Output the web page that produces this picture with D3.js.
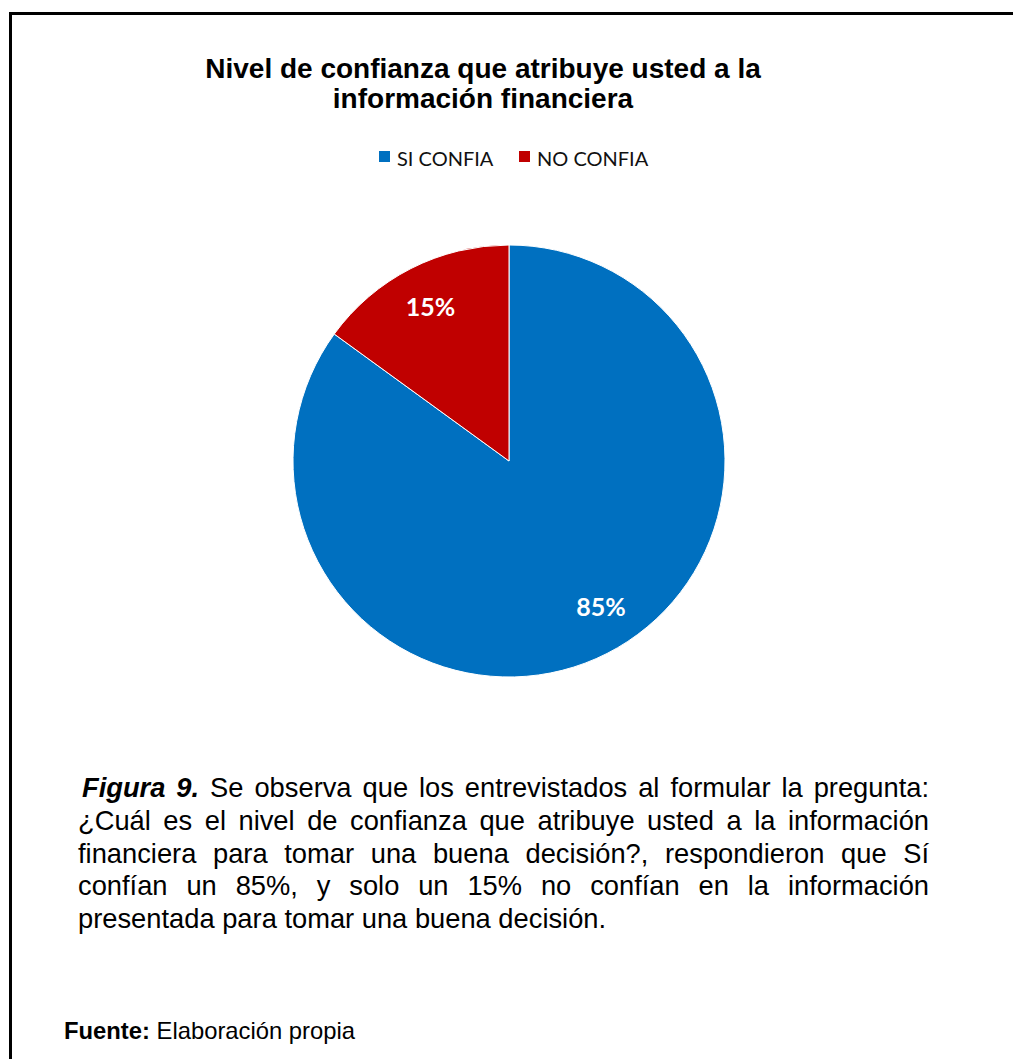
<!DOCTYPE html>
<html>
<head>
<meta charset="utf-8">
<script src="https://cdn.jsdelivr.net/npm/d3@7"></script>
<style>
  html, body { margin: 0; padding: 0; background: #fff; }
  #wrap { position: relative; width: 1013px; height: 1059px; overflow: hidden; }
  svg { position: absolute; left: 0; top: 0; }
  #caption {
    position: absolute; left: 78px; top: 772px; width: 851px;
    font-family: "Liberation Sans", Arial, sans-serif; font-size: 27.3px; line-height: 32.75px;
    color: #000; text-align: justify; text-align-last: left; text-indent: 4px;
  }
  #source {
    position: absolute; left: 64px; top: 1017px;
    font-family: "Liberation Sans", Arial, sans-serif; font-size: 23.8px; color: #000;
  }
</style>
</head>
<body>
<div id="wrap"></div>
<script>
// Survey answers: trust in financial information
const categories = ["SI CONFIA", "NO CONFIA"];
const shares = [85, 15];
const sliceColors = ["#0070C0", "#C00000"];
const titleLines = ["Nivel de confianza que atribuye usted a la", "información financiera"];

const W = 1013, H = 1059;
const wrap = d3.select("#wrap");
const svg = wrap.append("svg").attr("width", W).attr("height", H);

// Frame around the figure (open on the right and bottom edges)
svg.append("rect")
  .attr("x", 10.5).attr("y", 13.5)
  .attr("width", W + 20).attr("height", H + 20)
  .attr("fill", "none").attr("stroke", "#000").attr("stroke-width", 3);

// Title
svg.append("g").selectAll("text").data(titleLines).join("text")
  .attr("x", 483).attr("y", (d, i) => 78 + i * 30)
  .attr("text-anchor", "middle")
  .attr("font-family", "Liberation Sans, Arial, sans-serif")
  .attr("font-weight", "bold").attr("font-size", 28)
  .text(d => d);

// Legend
const color = d3.scaleOrdinal().domain(categories).range(sliceColors);
const legendX = [379, 519];
const legend = svg.append("g").selectAll("g").data(categories).join("g")
  .attr("transform", (d, i) => `translate(${legendX[i]},151)`);
legend.append("rect").attr("width", 11).attr("height", 11).attr("fill", d => color(d));
legend.append("text")
  .attr("x", 18).attr("y", 15)
  .attr("font-family", "Lato, 'Noto Sans', sans-serif").attr("font-size", 20)
  .attr("fill", "#111")
  .text(d => d);

// Pie
const cx = 509, cy = 461, R = 216;
const data = categories.map((c, i) => ({ name: c, value: shares[i] }));
const pie = d3.pie().value(d => d.value).sort(null);
const arc = d3.arc().innerRadius(0).outerRadius(R);
const labelArc = d3.arc().innerRadius(R * 0.8).outerRadius(R * 0.8);

const g = svg.append("g").attr("transform", `translate(${cx},${cy})`);
const arcs = pie(data);
g.selectAll("path").data(arcs).join("path")
  .attr("d", arc)
  .attr("fill", d => color(d.data.name))
  .attr("stroke", "#fff").attr("stroke-width", 1);

// Value labels sit inside each slice, pulled slightly toward the vertical midline
g.selectAll("text.lbl").data(arcs).join("text")
  .attr("class", "lbl")
  .attr("transform", d => {
    const [x, y] = labelArc.centroid(d);
    const a = (d.startAngle + d.endAngle) / 2 - 0.09;
    const r = R * 0.8;
    return d.data.value > 50 ? `translate(${r * Math.sin(a)},${-r * Math.cos(a)})` : `translate(${x},${y})`;
  })
  .attr("text-anchor", "middle").attr("dy", "0.36em")
  .attr("font-family", "Lato, 'Open Sans', sans-serif").attr("font-weight", "bold")
  .attr("font-size", 25).attr("fill", "#fff")
  .text(d => d.data.value + "%");

// Caption
wrap.append("div").attr("id", "caption")
  .html('<b><i>Figura 9.</i></b> Se observa que los entrevistados al formular la pregunta: ¿Cuál es el nivel de confianza que atribuye usted a la información financiera para tomar una buena decisión?, respondieron que Sí confían un 85%, y solo un 15% no confían en la información presentada para tomar una buena decisión.');

wrap.append("div").attr("id", "source")
  .html('<b>Fuente:</b> Elaboración propia');
</script>
</body>
</html>
